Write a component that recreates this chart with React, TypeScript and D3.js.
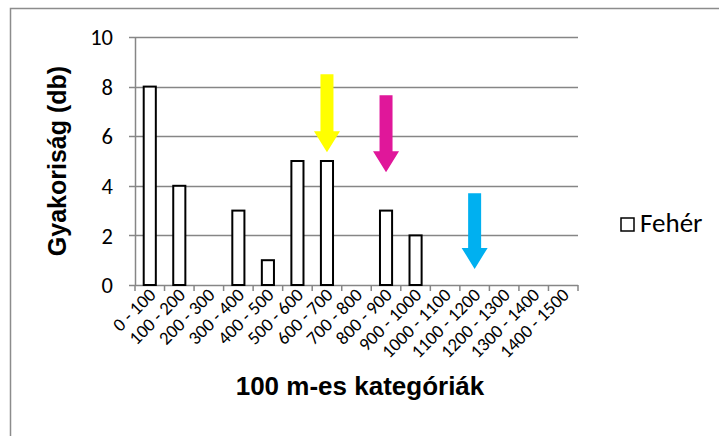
import { useEffect, useRef } from "react";
import * as d3 from "d3";

const categories = [
  "0 - 100", "100 - 200", "200 - 300", "300 - 400", "400 - 500",
  "500 - 600", "600 - 700", "700 - 800", "800 - 900", "900 - 1000",
  "1000 - 1100", "1100 - 1200", "1200 - 1300", "1300 - 1400", "1400 - 1500",
];
const feherValues = [8, 4, 0, 3, 1, 5, 5, 0, 3, 2, 0, 0, 0, 0, 0];
const yTicks = [0, 2, 4, 6, 8, 10];

// highlight arrows: category they point at, top and tip in y units
const arrowCategories = ["600 - 700", "800 - 900", "1100 - 1200"];
const arrowTops = [8.5, 7.65, 3.7];
const arrowTips = [5.35, 4.55, 0.65];
const arrowColors = ["#ffff00", "#e0179a", "#00b0f0"];

const W = 719;
const H = 436;
const margin = { left: 135, right: 141, top: 37, bottom: 151 };
const calibri = "Carlito, Calibri, Lato, sans-serif";
const arial = "'Liberation Sans', Arial, sans-serif";

const App = () => {
  const ref = useRef<SVGSVGElement | null>(null);

  useEffect(() => {
    if (!ref.current) return;
    const svg = d3.select(ref.current);
    svg.selectAll("*").remove();

    const x0 = margin.left;
    const x1 = W - margin.right;
    const y0 = H - margin.bottom;
    const y1 = margin.top;

    const x = d3.scaleBand<string>().domain(categories).range([x0, x1]).paddingInner(0.59).paddingOuter(0.295);
    const y = d3.scaleLinear().domain([0, 10]).range([y0, y1]);

    // outer chart border
    svg.append("rect")
      .attr("x", 10.5).attr("y", 8.5)
      .attr("width", W + 20).attr("height", H + 20)
      .attr("fill", "white").attr("stroke", "#8c8c8c").attr("stroke-width", 1.5);

    const grid = "#868686";

    // gridlines + y ticks
    svg.append("g").selectAll("line").data(yTicks).enter().append("line")
      .attr("x1", x0 - 6).attr("x2", x1)
      .attr("y1", d => Math.round(y(d)) + 0.5).attr("y2", d => Math.round(y(d)) + 0.5)
      .attr("stroke", grid).attr("stroke-width", 1.5);

    svg.append("line")
      .attr("x1", x0 + 0.5).attr("x2", x0 + 0.5).attr("y1", y1).attr("y2", y0)
      .attr("stroke", grid).attr("stroke-width", 1.5);

    // x ticks at band boundaries
    const step = x.step();
    const bounds = d3.range(categories.length + 1).map(i => x0 + i * step);
    svg.append("g").selectAll("line").data(bounds).enter().append("line")
      .attr("x1", d => d).attr("x2", d => d)
      .attr("y1", y0).attr("y2", y0 + 6)
      .attr("stroke", grid).attr("stroke-width", 1.5);

    svg.append("g").selectAll("text").data(yTicks).enter().append("text")
      .attr("x", 113).attr("y", d => y(d)).attr("dy", "0.36em")
      .attr("text-anchor", "end")
      .attr("font-family", calibri).attr("font-size", 22.5)
      .text(d => d);

    // bars
    svg.append("g").selectAll("rect").data(feherValues).enter().append("rect")
      .attr("x", (_, i) => x(categories[i])!)
      .attr("y", d => y(d))
      .attr("width", x.bandwidth())
      .attr("height", d => y0 - y(d))
      .attr("fill", "white").attr("stroke", "black").attr("stroke-width", 2)
      .attr("visibility", d => (d > 0 ? "visible" : "hidden"));

    // x tick labels
    svg.append("g").selectAll("text").data(categories).enter().append("text")
      .attr("transform", d => `translate(${x(d)! + x.bandwidth() / 2 + 7},${y0 + 11}) rotate(-45)`)
      .attr("text-anchor", "end")
      .attr("font-family", calibri).attr("font-size", 18.5)
      .text(d => d);

    // arrows
    const shaft = 6.5;
    const head = 13;
    const headLen = 21;
    arrowCategories.forEach((c, i) => {
      const cx = x(c)! + x.bandwidth() / 2;
      const top = y(arrowTops[i]);
      const tip = y(arrowTips[i]);
      const hs = tip - headLen;
      const pts: [number, number][] = [
        [cx - shaft, top], [cx + shaft, top], [cx + shaft, hs], [cx + head, hs],
        [cx, tip], [cx - head, hs], [cx - shaft, hs],
      ];
      svg.append("polygon")
        .attr("points", pts.map(p => p.join(",")).join(" "))
        .attr("fill", arrowColors[i]);
    });

    // axis titles
    svg.append("text")
      .attr("transform", `translate(66,${(y0 + y1) / 2}) rotate(-90)`)
      .attr("text-anchor", "middle")
      .attr("font-family", arial).attr("font-weight", "bold").attr("font-size", 25)
      .text("Gyakoriság (db)");

    svg.append("text")
      .attr("x", 360).attr("y", 395)
      .attr("text-anchor", "middle")
      .attr("font-family", arial).attr("font-weight", "bold").attr("font-size", 26)
      .text("100 m-es kategóriák");

    // legend
    svg.append("rect")
      .attr("x", 621).attr("y", 218).attr("width", 13).attr("height", 13)
      .attr("fill", "white").attr("stroke", "black").attr("stroke-width", 1.5);
    svg.append("text")
      .attr("x", 640).attr("y", 232)
      .attr("font-family", calibri).attr("font-size", 27)
      .text("Fehér");
  }, []);

  return (
    <div style={{ position: "absolute", left: 0, top: 0, width: W, height: H, background: "white" }}>
      <svg ref={ref} width={W} height={H} style={{ display: "block" }} />
    </div>
  );
};

export default App;
